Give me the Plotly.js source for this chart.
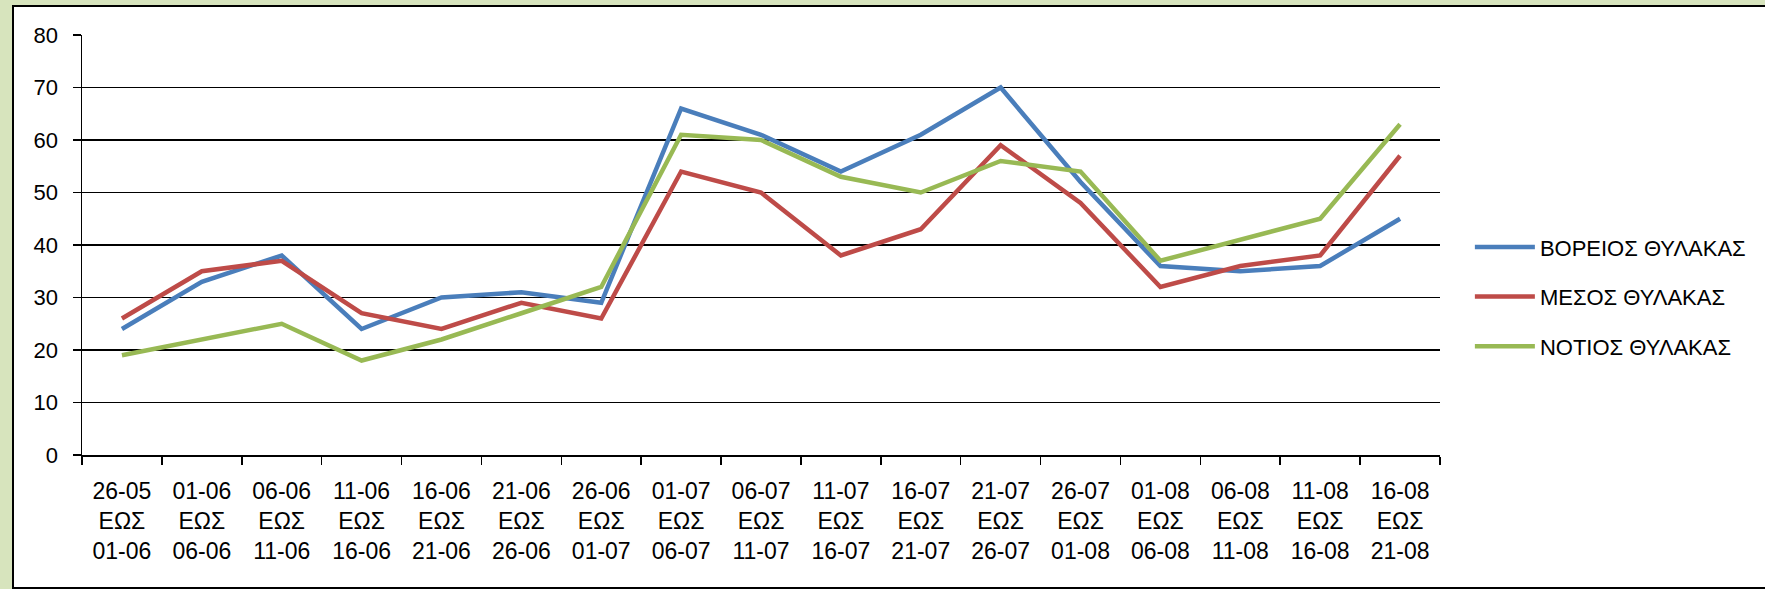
<!DOCTYPE html>
<html>
<head>
<meta charset="utf-8">
<script src="https://cdn.plot.ly/plotly-3.0.1.min.js"></script>
<style>
  html, body { margin: 0; padding: 0; background: #D7E4BD; width: 1765px; height: 589px; overflow: hidden; }
  #frame { position: absolute; left: 12px; top: 5px; width: 1751px; height: 580px;
           background: #ffffff; border-left: 2px solid #000; border-top: 2px solid #000; border-bottom: 2px solid #000; }
  #chart { width: 1751px; height: 580px; }
</style>
</head>
<body>
<div id="frame"><div id="chart"></div></div>
<script>
const startDates = ["26-05","01-06","06-06","11-06","16-06","21-06","26-06","01-07","06-07","11-07","16-07","21-07","26-07","01-08","06-08","11-08","16-08"];
const endDates   = ["01-06","06-06","11-06","16-06","21-06","26-06","01-07","06-07","11-07","16-07","21-07","26-07","01-08","06-08","11-08","16-08","21-08"];
const seriesNames = ["ΒΟΡΕΙΟΣ ΘΥΛΑΚΑΣ","ΜΕΣΟΣ ΘΥΛΑΚΑΣ","ΝΟΤΙΟΣ ΘΥΛΑΚΑΣ"];
const vorios = [24,33,38,24,30,31,29,66,61,54,61,70,52,36,35,36,45];
const mesos  = [26,35,37,27,24,29,26,54,50,38,43,59,48,32,36,38,57];
const notios = [19,22,25,18,22,27,32,61,60,53,50,56,54,37,41,45,63];
const colors = ["#4A7EBB","#BE4B48","#98B954"];

const categories = startDates.map((s,i) => s + "<br>ΕΩΣ<br>" + endDates[i]);
const font = {family: "Liberation Sans, Arial, sans-serif", size: 22, color: "#000"};
const xfont = {family: "Liberation Sans, Arial, sans-serif", size: 23, color: "#000"};

const data = [vorios, mesos, notios].map((vals, k) => ({
  type: "scatter", mode: "lines", x: categories, y: vals, name: seriesNames[k],
  legendgroup: "g" + k,
  line: {color: colors[k], width: 4.5}
}));

const layout = {
  width: 1751, height: 580,
  margin: {l: 68, r: 325, t: 28, b: 131.5},
  paper_bgcolor: "#ffffff", plot_bgcolor: "#ffffff",
  font: font,
  showlegend: true,
  legend: {x: 1.022, xanchor: "left", y: 0.377, yanchor: "middle",
           font: font, tracegroupgap: 18, itemwidth: 60, bgcolor: "rgba(0,0,0,0)"},
  xaxis: {type: "category", range: [-0.5, 16.5], tickson: "boundaries", ticks: "outside", ticklen: 8, tickwidth: 1.5,
          tickcolor: "#000", showline: true, linecolor: "#000", linewidth: 1.5,
          showgrid: false, tickfont: xfont, tickangle: 0, ticklabelstandoff: 15, fixedrange: true},
  yaxis: {range: [0, 80], dtick: 10, ticks: "outside", ticklen: 8, tickwidth: 1.5, tickcolor: "#000",
          showline: true, linecolor: "#000", linewidth: 1.5, showgrid: true, gridcolor: "#000",
          gridwidth: 1.3, zeroline: false, tickfont: font, ticklabelstandoff: 10, fixedrange: true}
};

Plotly.newPlot("chart", data, layout, {displayModeBar: false, staticPlot: true});
</script>
</body>
</html>
